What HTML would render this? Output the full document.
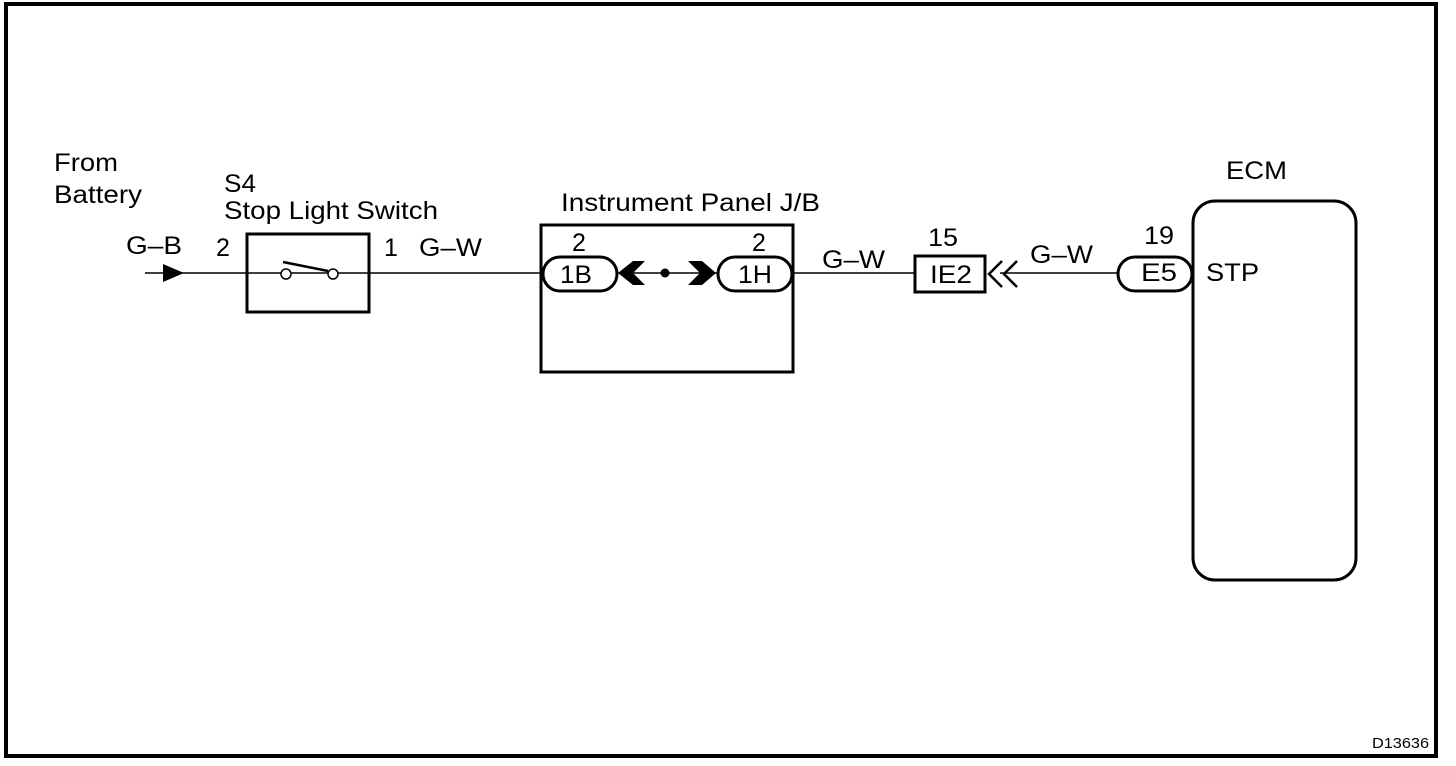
<!DOCTYPE html>
<html><head><meta charset="utf-8"><style>
html,body{margin:0;padding:0;background:#fff;}
svg{display:block;}
text{font-family:"Liberation Sans",Arial,sans-serif;font-size:25px;fill:#000;}
</style></head><body>
<svg width="1456" height="766" viewBox="0 0 1456 766" xmlns="http://www.w3.org/2000/svg">
<rect x="6" y="4" width="1430" height="752" fill="none" stroke="#000" stroke-width="4"/>
<g stroke="#000" stroke-width="1.5" fill="none">
<line x1="145" y1="273" x2="543" y2="273"/>
<line x1="792" y1="273" x2="915" y2="273"/>
<line x1="1000" y1="273" x2="1120" y2="273"/>
<line x1="617" y1="273" x2="718" y2="273"/>
</g>
<polygon points="163,264 184,273 163,282" fill="#000"/>
<rect x="247" y="234" width="122" height="78" fill="none" stroke="#000" stroke-width="3"/>
<line x1="283" y1="262" x2="328" y2="271" stroke="#000" stroke-width="2.5"/>
<circle cx="286" cy="274" r="5" fill="#fff" stroke="#000" stroke-width="1.5"/>
<circle cx="333" cy="274" r="5" fill="#fff" stroke="#000" stroke-width="1.5"/>
<rect x="541" y="225" width="252" height="147" fill="none" stroke="#000" stroke-width="3"/>
<rect x="543" y="257" width="74" height="34" rx="17" fill="#fff" stroke="#000" stroke-width="3"/>
<rect x="718" y="257" width="74" height="34" rx="17" fill="#fff" stroke="#000" stroke-width="3"/>
<polygon points="618,273 633,261 645,261 633,273 645,285 633,285" fill="#000"/>
<circle cx="665" cy="273" r="4.5" fill="#000"/>
<polygon points="688,261 702,261 716,273 702,285 688,285 700,273" fill="#000"/>
<rect x="915" y="256" width="70" height="36" fill="#fff" stroke="#000" stroke-width="3"/>
<polyline points="1002,261 989,274 1002,287" fill="none" stroke="#000" stroke-width="2.5"/>
<polyline points="1017,261 1004,274 1017,287" fill="none" stroke="#000" stroke-width="2.5"/>
<rect x="1193" y="201" width="163" height="379" rx="22" fill="#fff" stroke="#000" stroke-width="3"/>
<rect x="1118" y="257" width="74" height="34" rx="17" fill="#fff" stroke="#000" stroke-width="3"/>
<text x="54" y="171" textLength="64" lengthAdjust="spacingAndGlyphs">From</text>
<text x="54" y="203" textLength="88" lengthAdjust="spacingAndGlyphs">Battery</text>
<text x="224" y="192" textLength="32" lengthAdjust="spacingAndGlyphs">S4</text>
<text x="224" y="219" textLength="214" lengthAdjust="spacingAndGlyphs">Stop Light Switch</text>
<text x="126" y="254" textLength="56" lengthAdjust="spacingAndGlyphs">G–B</text>
<text x="216" y="256">2</text>
<text x="384" y="256">1</text>
<text x="419" y="256" textLength="63" lengthAdjust="spacingAndGlyphs">G–W</text>
<text x="561" y="211" textLength="259" lengthAdjust="spacingAndGlyphs">Instrument Panel J/B</text>
<text x="572" y="251">2</text>
<text x="752" y="251">2</text>
<text x="560" y="283" textLength="32" lengthAdjust="spacingAndGlyphs">1B</text>
<text x="738" y="283" textLength="34" lengthAdjust="spacingAndGlyphs">1H</text>
<text x="822" y="268" textLength="63" lengthAdjust="spacingAndGlyphs">G–W</text>
<text x="928" y="246" textLength="30" lengthAdjust="spacingAndGlyphs">15</text>
<text x="930" y="283" textLength="42" lengthAdjust="spacingAndGlyphs">IE2</text>
<text x="1030" y="263" textLength="63" lengthAdjust="spacingAndGlyphs">G–W</text>
<text x="1144" y="244" textLength="30" lengthAdjust="spacingAndGlyphs">19</text>
<text x="1141" y="281" textLength="36" lengthAdjust="spacingAndGlyphs">E5</text>
<text x="1206" y="281" textLength="53" lengthAdjust="spacingAndGlyphs">STP</text>
<text x="1226" y="179" textLength="61" lengthAdjust="spacingAndGlyphs">ECM</text>
<text x="1372" y="748" style="font-size:15px" textLength="57" lengthAdjust="spacingAndGlyphs">D13636</text>
</svg>
</body></html>
